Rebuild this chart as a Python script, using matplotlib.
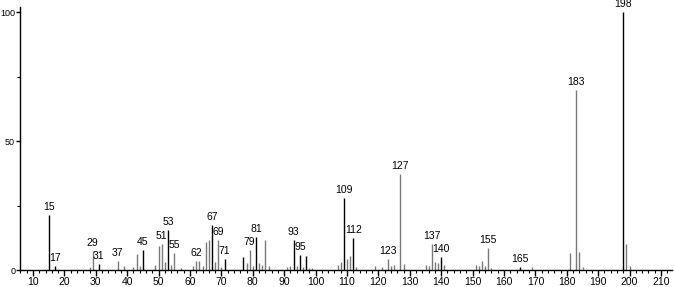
import matplotlib
matplotlib.use("Agg")
import matplotlib.pyplot as plt
from matplotlib.ticker import MultipleLocator

plt.rcParams['font.family'] = ['Liberation Sans', 'DejaVu Sans']

# m/z and relative intensity
mz = [15, 17, 28, 29, 31, 37, 39, 42, 43, 44, 45, 49, 50, 51, 52, 53, 54, 55,
      57, 61, 62, 63, 64, 65, 66, 67, 68, 69, 70, 71, 77, 78, 79, 80, 81, 82,
      83, 84, 85, 91, 92, 93, 94, 95, 96, 97, 98, 99, 107, 108, 109, 110, 111,
      112, 113, 119, 121, 123, 124, 125, 127, 128, 135, 136, 137, 138, 139,
      140, 141, 151, 152, 153, 154, 155, 156, 165, 169, 181, 183, 184, 185,
      198, 199, 200]
intensity = [21.3, 1.5, 1.0, 7.4, 2.3, 3.5, 1.5, 1.0, 6.2, 1.5, 7.8, 2.0, 9.3,
             10.0, 3.0, 15.5, 2.0, 6.6, 0.8, 1.5, 3.5, 3.5, 1.5, 11.0, 11.6,
             17.4, 3.0, 11.6, 1.0, 4.2, 5.0, 2.8, 7.8, 1.5, 12.8, 2.7, 2.0,
             11.6, 1.5, 1.2, 1.5, 11.6, 1.5, 5.8, 1.0, 5.4, 0.8, 0.8, 1.9, 3.0,
             28.0, 4.2, 5.5, 12.4, 1.0, 1.5, 1.0, 4.2, 1.5, 2.0, 37.2, 2.5, 2.0,
             1.5, 10.0, 3.0, 2.7, 5.0, 2.0, 2.0, 1.5, 3.5, 1.5, 8.5, 0.8, 1.0,
             1.2, 6.6, 69.8, 7.0, 1.0, 100.0, 10.0, 1.5]

labelled = [15, 17, 29, 31, 37, 45, 51, 53, 55, 62, 67, 69, 71, 79, 81, 93,
            95, 109, 112, 123, 127, 137, 140, 155, 165, 183, 198]
dark = [15, 17, 31, 45, 53, 67, 71, 77, 81, 93, 95, 97, 109, 112, 140, 165,
        198]

fig = plt.figure(figsize=(6.74, 2.87), dpi=100)
ax = fig.add_axes([20 / 674, 17 / 287, 652 / 674, 263 / 287])

for m, h in zip(mz, intensity):
    color = 'black' if m in dark else '#7a7a7a'
    ax.vlines(m, 0, h, color=color, linewidth=1.0)
    if m in labelled:
        ax.text(m, h + 1.2, str(m), ha='center', va='bottom',
                fontsize=7.5, color='black')

ax.set_xlim(5.86, 213.5)
ax.set_ylim(0, 102)

ax.spines['top'].set_visible(False)
ax.spines['right'].set_visible(False)
ax.spines['left'].set_linewidth(1.0)
ax.spines['bottom'].set_linewidth(1.0)

ax.xaxis.set_major_locator(MultipleLocator(10))
ax.xaxis.set_minor_locator(MultipleLocator(2))
ax.yaxis.set_major_locator(MultipleLocator(50))
ax.yaxis.set_minor_locator(MultipleLocator(25))
ax.tick_params(axis='x', which='major', length=4, width=1,
               labelsize=7.5, pad=1)
ax.tick_params(axis='y', which='major', length=3, width=1,
               labelsize=6.5, pad=0.5)
ax.tick_params(axis='both', which='minor', length=2.5, width=0.8)

fig.savefig('out.png', dpi=100)
